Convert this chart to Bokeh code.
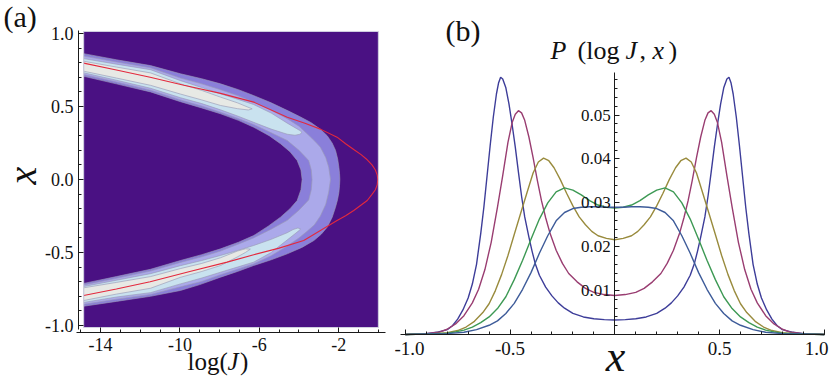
import math
from bokeh.plotting import figure
from bokeh.models import Range1d, FixedTicker, Label, NumeralTickFormatter
from bokeh.layouts import row
from bokeh.embed import file_html
from bokeh.resources import INLINE

SERIF = "Liberation Serif"

# ---------------- panel (a): contour bands in the (log J, x) plane ----------------
# plotted region of the density map
LOGJ_LIM = [-14.85, 0.0]
X_LIM = [-1.014, 1.014]

# level 1 band (outermost): outer edge and inner edge, listed from top-left round the nose to bottom-left
O1_L = [-14.85, -13.2, -11.48, -9.97, -8.9, -7.95, -7.05, -6.29, -5.4, -4.55, -3.95, -3.4, -2.93, -2.58, -2.33, -2.16, -2.05, -1.99, -1.955, -1.94,
        -1.955, -1.99, -2.06, -2.16, -2.33, -2.58, -2.88, -3.25, -3.85, -4.59, -5.4, -6.28, -7.1, -7.95, -9.0, -9.97, -11.48, -13.2, -14.85]
O1_X = [0.862, 0.82, 0.78, 0.724, 0.69, 0.655, 0.615, 0.575, 0.525, 0.47, 0.43, 0.39, 0.345, 0.3, 0.25, 0.2, 0.14, 0.084, 0.04, 0.0,
        -0.04, -0.09, -0.14, -0.19, -0.26, -0.327, -0.375, -0.418, -0.465, -0.509, -0.55, -0.589, -0.63, -0.669, -0.72, -0.76, -0.8, -0.835, -0.868]
I1_L = [-14.85, -13.2, -11.48, -9.97, -8.9, -7.95, -7.05, -6.28, -5.5, -4.93, -4.45, -4.09, -3.9, -3.84,
        -3.9, -4.09, -4.45, -4.93, -5.55, -6.28, -7.05, -7.95, -8.9, -9.97, -11.48, -13.2, -14.85]
I1_X = [0.707, 0.655, 0.6, 0.533, 0.49, 0.45, 0.405, 0.358, 0.3, 0.245, 0.19, 0.13, 0.065, 0.0,
        -0.07, -0.144, -0.2, -0.258, -0.32, -0.384, -0.43, -0.475, -0.515, -0.555, -0.615, -0.665, -0.712]

# level 2 band
O2_L = [-14.85, -13.2, -11.48, -9.97, -8.9, -7.95, -7.1, -6.29, -5.4, -4.59, -4.0, -3.59, -3.22, -2.92, -2.65, -2.5, -2.41,
        -2.5, -2.65, -2.92, -3.22, -3.59, -4.0, -4.59, -5.4, -6.29, -7.1, -7.95, -8.9, -9.97, -11.48, -13.2, -14.85]
O2_X = [0.845, 0.805, 0.765, 0.695, 0.655, 0.615, 0.575, 0.53, 0.475, 0.416, 0.365, 0.313, 0.265, 0.221, 0.15, 0.084, 0.0,
        -0.085, -0.17, -0.25, -0.31, -0.355, -0.4, -0.455, -0.522, -0.578, -0.615, -0.652, -0.698, -0.735, -0.787, -0.82, -0.855]
I2_L = [-14.85, -13.2, -11.48, -9.97, -8.9, -7.95, -7.1, -6.29, -5.4, -4.59, -4.0, -3.51, -3.38, -3.34,
        -3.38, -3.51, -4.0, -4.59, -5.4, -6.29, -7.1, -7.95, -8.9, -9.97, -11.48, -13.2, -14.85]
I2_X = [0.719, 0.668, 0.612, 0.545, 0.503, 0.461, 0.42, 0.377, 0.32, 0.267, 0.2, 0.13, 0.065, 0.0,
        -0.07, -0.14, -0.21, -0.28, -0.34, -0.4, -0.445, -0.49, -0.53, -0.568, -0.627, -0.677, -0.722]

# level 3 islands (upper and lower branch), outline from left edge to tip and back
L3U_L = [-14.85, -13.2, -11.48, -9.97, -8.9, -7.95, -7.1, -6.29, -5.4, -4.59, -4.2, -3.95, -3.85,
         -3.95, -4.2, -4.59, -5.4, -6.29, -7.1, -7.95, -8.9, -9.97, -11.48, -13.2, -14.85]
L3U_X = [0.828, 0.79, 0.752, 0.677, 0.63, 0.587, 0.55, 0.514, 0.455, 0.386, 0.355, 0.335, 0.323,
         0.31, 0.303, 0.31, 0.345, 0.392, 0.435, 0.477, 0.52, 0.56, 0.625, 0.68, 0.731]
L3D_L = [-14.85, -13.2, -11.48, -9.97, -8.9, -7.95, -7.1, -6.28, -5.4, -4.6, -4.2, -4.0, -3.92,
         -4.05, -4.3, -4.6, -5.4, -6.28, -7.1, -7.95, -8.9, -9.97, -11.48, -13.2, -14.85]
L3D_X = [-0.842, -0.805, -0.775, -0.715, -0.675, -0.635, -0.6, -0.566, -0.5, -0.415, -0.372, -0.35, -0.34,
         -0.332, -0.343, -0.365, -0.41, -0.452, -0.487, -0.52, -0.555, -0.59, -0.645, -0.69, -0.733]

# level 4 islands (core)
L4U_L = [-14.85, -13.2, -11.48, -9.97, -8.9, -7.95, -7.1, -6.6, -6.36, -6.55, -7.1, -7.95, -8.9, -9.97, -11.48, -13.2, -14.85]
L4U_X = [0.81, 0.77, 0.73, 0.655, 0.61, 0.564, 0.525, 0.497, 0.484, 0.476, 0.485, 0.507, 0.545, 0.585, 0.645, 0.695, 0.742]
L4D_L = [-14.85, -13.2, -11.48, -9.97, -8.9, -7.95, -7.1, -6.7, -6.45, -6.7, -7.1, -7.95, -8.9, -9.97, -11.48, -13.2, -14.85]
L4D_X = [-0.829, -0.785, -0.745, -0.67, -0.63, -0.589, -0.53, -0.5, -0.477, -0.475, -0.49, -0.536, -0.575, -0.61, -0.665, -0.705, -0.742]

# red curve
RED_L = [-14.85, -13.2, -11.5, -9.8, -7.95, -6.28, -4.59, -3.7, -2.92, -2.08, -1.65, -1.24, -0.87, -0.56, -0.32, -0.15, -0.056, -0.03,
         -0.056, -0.15, -0.34, -0.56, -0.9, -1.24, -1.65, -2.08, -2.92, -3.76, -5.0, -6.28, -7.62, -9.5, -11.5, -13.2, -14.85]
RED_X = [0.797, 0.75, 0.70, 0.645, 0.59, 0.53, 0.427, 0.385, 0.345, 0.29, 0.245, 0.205, 0.17, 0.135, 0.10, 0.065, 0.03, 0.0,
         -0.035, -0.07, -0.105, -0.144, -0.178, -0.212, -0.248, -0.281, -0.349, -0.418, -0.47, -0.515, -0.566, -0.63, -0.70, -0.75, -0.795]

A_X_TICKS = [-14, -10, -6, -2]
A_X_MINOR = [-15, -14, -13, -12, -11, -10, -9, -8, -7, -6, -5, -4, -3, -2, -1, 0]
A_Y_TICKS = [-1, -0.5, 0, 0.5, 1]
A_Y_MINOR = [-1.0, -0.9, -0.8, -0.7, -0.6, -0.5, -0.4, -0.3, -0.2, -0.1, 0.0, 0.1, 0.2, 0.3, 0.4, 0.5, 0.6, 0.7, 0.8, 0.9, 1.0]

# ---------------- panel (b): P(log J, x) curves ----------------
X1 = [-1.0, -0.95, -0.9, -0.85, -0.8, -0.775, -0.75, -0.725, -0.7, -0.68, -0.66, -0.64, -0.625, -0.61, -0.595, -0.58, -0.565, -0.555, -0.545, -0.535,
      -0.52, -0.505, -0.49, -0.475, -0.46, -0.445, -0.43, -0.41, -0.395, -0.38, -0.36, -0.33, -0.3, -0.27, -0.24, -0.2, -0.15, -0.1, -0.05, 0.0,
      0.05, 0.1, 0.15, 0.2, 0.24, 0.27, 0.3, 0.33, 0.36, 0.38, 0.395, 0.41, 0.43, 0.445, 0.46, 0.475, 0.49, 0.505, 0.52,
      0.535, 0.545, 0.555, 0.565, 0.58, 0.595, 0.61, 0.625, 0.64, 0.66, 0.68, 0.7, 0.725, 0.75, 0.775, 0.8, 0.85, 0.9, 0.95, 1.0]
Y1 = [0.0, 0.0001, 0.0002, 0.0005, 0.0011, 0.002, 0.0035, 0.0056, 0.0083, 0.0115, 0.016, 0.023, 0.029, 0.036, 0.043, 0.0495, 0.0548, 0.0573, 0.0586, 0.0582,
      0.0562, 0.0525, 0.0478, 0.0427, 0.037, 0.0315, 0.0268, 0.0222, 0.019, 0.0162, 0.0135, 0.0108, 0.0088, 0.0072, 0.006, 0.0048, 0.004, 0.0036, 0.0034, 0.0033,
      0.0034, 0.0036, 0.004, 0.0048, 0.006, 0.0072, 0.0088, 0.0108, 0.0135, 0.0162, 0.019, 0.0222, 0.0268, 0.0315, 0.037, 0.0427, 0.0478, 0.0525, 0.0562,
      0.0582, 0.0586, 0.0573, 0.0548, 0.0495, 0.043, 0.036, 0.029, 0.023, 0.016, 0.0115, 0.0083, 0.0056, 0.0035, 0.002, 0.0011, 0.0005, 0.0002, 0.0001, 0.0]

X2 = [-1.0, -0.95, -0.9, -0.84, -0.8, -0.76, -0.72, -0.68, -0.65, -0.62, -0.59, -0.56, -0.535, -0.51, -0.49, -0.475, -0.46, -0.445, -0.43, -0.41,
      -0.39, -0.37, -0.35, -0.33, -0.31, -0.28, -0.25, -0.22, -0.18, -0.14, -0.1, -0.05, 0.0,
      0.05, 0.1, 0.14, 0.18, 0.22, 0.25, 0.28, 0.31, 0.33, 0.35, 0.37, 0.39, 0.41, 0.43, 0.445, 0.46,
      0.475, 0.49, 0.51, 0.535, 0.56, 0.59, 0.62, 0.65, 0.68, 0.72, 0.76, 0.8, 0.84, 0.9, 0.95, 1.0]
Y2 = [0.0, 0.0001, 0.0002, 0.0005, 0.0012, 0.0024, 0.0043, 0.0072, 0.0103, 0.0148, 0.021, 0.029, 0.0362, 0.0438, 0.0483, 0.0502, 0.051, 0.0505, 0.0488, 0.045,
      0.0403, 0.0352, 0.0305, 0.0266, 0.0232, 0.0192, 0.0162, 0.0139, 0.012, 0.0105, 0.0096, 0.0091, 0.0089,
      0.0091, 0.0096, 0.0105, 0.012, 0.0139, 0.0162, 0.0192, 0.0232, 0.0266, 0.0305, 0.0352, 0.0403, 0.045, 0.0488, 0.0505, 0.051,
      0.0502, 0.0483, 0.0438, 0.0362, 0.029, 0.021, 0.0148, 0.0103, 0.0072, 0.0043, 0.0024, 0.0012, 0.0005, 0.0002, 0.0001, 0.0]

X3 = [-1.0, -0.9, -0.85, -0.8, -0.75, -0.71, -0.67, -0.63, -0.6, -0.57, -0.54, -0.51, -0.48, -0.45, -0.42, -0.39, -0.365, -0.34, -0.315, -0.29,
      -0.26, -0.23, -0.2, -0.17, -0.14, -0.11, -0.08, -0.04, 0.0,
      0.04, 0.08, 0.11, 0.14, 0.17, 0.2, 0.23, 0.26, 0.29, 0.315, 0.34, 0.365, 0.39, 0.42, 0.45, 0.48, 0.51, 0.54, 0.57, 0.6,
      0.63, 0.67, 0.71, 0.75, 0.8, 0.85, 0.9, 1.0]
Y3 = [0.0, 0.0001, 0.0002, 0.0004, 0.0009, 0.0017, 0.003, 0.005, 0.007, 0.01, 0.0137, 0.018, 0.0228, 0.0275, 0.0322, 0.0368, 0.0393, 0.0402, 0.0396, 0.038,
      0.0353, 0.0322, 0.0293, 0.0268, 0.025, 0.0235, 0.0225, 0.0219, 0.0216,
      0.0219, 0.0225, 0.0235, 0.025, 0.0268, 0.0293, 0.0322, 0.0353, 0.038, 0.0396, 0.0402, 0.0393, 0.0368, 0.0322, 0.0275, 0.0228, 0.018, 0.0137, 0.01, 0.007,
      0.005, 0.003, 0.0017, 0.0009, 0.0004, 0.0002, 0.0001, 0.0]

X4 = [-1.0, -0.9, -0.8, -0.76, -0.72, -0.68, -0.64, -0.6, -0.56, -0.52, -0.48, -0.44, -0.4, -0.36, -0.32, -0.28, -0.24, -0.2, -0.16, -0.12,
      -0.08, -0.04, 0.0,
      0.04, 0.08, 0.12, 0.16, 0.2, 0.24, 0.28, 0.32, 0.36, 0.4, 0.44, 0.48, 0.52, 0.56, 0.6, 0.64, 0.68, 0.72, 0.76, 0.8, 0.9, 1.0]
Y4 = [0.0, 0.0001, 0.0003, 0.0006, 0.001, 0.0017, 0.0027, 0.004, 0.0059, 0.0086, 0.0125, 0.0169, 0.0217, 0.0263, 0.03, 0.0325, 0.0334, 0.0329, 0.0318, 0.0305,
      0.0295, 0.029, 0.0288,
      0.029, 0.0295, 0.0305, 0.0318, 0.0329, 0.0334, 0.0325, 0.03, 0.0263, 0.0217, 0.0169, 0.0125, 0.0086, 0.0059, 0.004, 0.0027, 0.0017, 0.001, 0.0006, 0.0003, 0.0001, 0.0]

X5 = [-1.0, -0.9, -0.8, -0.72, -0.66, -0.6, -0.56, -0.52, -0.48, -0.44, -0.4, -0.36, -0.32, -0.28, -0.24, -0.2, -0.16, -0.12, -0.08, -0.04, 0.0,
      0.04, 0.08, 0.12, 0.16, 0.2, 0.24, 0.28, 0.32, 0.36, 0.4, 0.44, 0.48, 0.52, 0.56, 0.6, 0.66, 0.72, 0.8, 0.9, 1.0]
Y5 = [0.0, 0.0001, 0.0002, 0.0005, 0.0011, 0.0021, 0.0031, 0.0048, 0.0071, 0.0103, 0.0141, 0.0185, 0.0225, 0.0259, 0.0278, 0.0287, 0.029, 0.0291, 0.0291, 0.029, 0.029,
      0.029, 0.0291, 0.0291, 0.029, 0.0287, 0.0278, 0.0259, 0.0225, 0.0185, 0.0141, 0.0103, 0.0071, 0.0048, 0.0031, 0.0021, 0.0011, 0.0005, 0.0002, 0.0001, 0.0]

SERIES = [(X1, Y1, "#3d3d99"), (X2, Y2, "#993d71"), (X3, Y3, "#998b3d"), (X4, Y4, "#3d9954"), (X5, Y5, "#3d5b99")]

B_X_TICKS = [-1, -0.5, 0.5, 1]
B_X_MINOR = [-1.0, -0.9, -0.8, -0.7, -0.6, -0.5, -0.4, -0.3, -0.2, -0.1, 0.0, 0.1, 0.2, 0.3, 0.4, 0.5, 0.6, 0.7, 0.8, 0.9, 1.0]
B_Y_TICKS = [0.01, 0.02, 0.03, 0.04, 0.05]
B_Y_MINOR = [round(0.002 * i, 3) for i in range(1, 30)]

BG = "#4a1183"
BAND_COLORS = ["#8a7fda", "#aba9ea", "#c9e2ef", "#e7e9e5"]
EDGE = "#9b9bb5"
INK = "#111111"


def style_axis(ax, size):
    ax.axis_line_color = "#1a1a1a"
    ax.axis_line_width = 1
    ax.major_tick_line_color = "#1a1a1a"
    ax.minor_tick_line_color = "#1a1a1a"
    ax.major_tick_in = 5
    ax.major_tick_out = 0
    ax.minor_tick_in = 3
    ax.minor_tick_out = 0
    ax.major_label_text_font = SERIF
    ax.major_label_text_font_size = size
    ax.major_label_text_color = INK


def add_text(p, x, y, text, size, style="normal", align="left", baseline="alphabetic", angle=0.0):
    p.add_layout(Label(x=x, y=y, text=text, text_font=SERIF, text_font_size=f"{size}px",
                       text_font_style=style, text_align=align, text_baseline=baseline,
                       angle=angle, text_color=INK))


H = 384

# ---------------- figure (a): the frame fills the whole canvas, axes sit at fixed places ----------------
A_W = 394
A_SX = 15.47 / 307.0      # log J per pixel
A_SY = 2.0685 / 302.0     # x per pixel


def apx(px):  # picture pixel -> log J
    return -15.11 + (px - 78) * A_SX


def apy(py):  # picture pixel -> x
    return 1.0205 - (py - 30) * A_SY


pa = figure(width=A_W, height=H, output_backend="svg", toolbar_location=None,
            x_range=Range1d(apx(0), apx(A_W)), y_range=Range1d(apy(H), apy(0)),
            min_border_left=0, min_border_right=0, min_border_top=0, min_border_bottom=0)
pa.outline_line_color = None
pa.grid.visible = False
pa.background_fill_color = "white"
style_axis(pa.xaxis[0], "18px")
style_axis(pa.yaxis[0], "18px")
pa.xaxis.ticker = FixedTicker(ticks=A_X_TICKS, minor_ticks=A_X_MINOR)
pa.xaxis.formatter = NumeralTickFormatter(format="0")
pa.yaxis.ticker = FixedTicker(ticks=A_Y_TICKS, minor_ticks=A_Y_MINOR)
pa.yaxis.formatter = NumeralTickFormatter(format="0.0")
pa.xaxis.major_label_standoff = 5
pa.yaxis.major_label_standoff = 5
pa.xaxis.fixed_location = apy(332)
pa.yaxis.fixed_location = apx(78)
pa.xaxis.bounds = (apx(76), apx(385))
pa.yaxis.bounds = (apy(329), apy(30))

pa.quad(left=LOGJ_LIM[0], right=LOGJ_LIM[1], bottom=X_LIM[0], top=X_LIM[1], fill_color=BG, line_color=None)


def horseshoe(oL, oX, iL, iX):
    return oL + iL[::-1], oX + iX[::-1]


for (xs, ys), col in [(horseshoe(O1_L, O1_X, I1_L, I1_X), BAND_COLORS[0]),
                      (horseshoe(O2_L, O2_X, I2_L, I2_X), BAND_COLORS[1]),
                      ((L3U_L, L3U_X), BAND_COLORS[2]), ((L3D_L, L3D_X), BAND_COLORS[2]),
                      ((L4U_L, L4U_X), BAND_COLORS[3]), ((L4D_L, L4D_X), BAND_COLORS[3])]:
    pa.patch(xs, ys, fill_color=col, line_color=EDGE, line_width=0.8, line_alpha=0.8)

pa.line(RED_L, RED_X, line_color="#e3293d", line_width=1.1)
pa.quad(left=LOGJ_LIM[0], right=LOGJ_LIM[1], bottom=X_LIM[0], top=X_LIM[1], fill_color=None,
        line_color="#d2d2e2", line_width=1)

add_text(pa, apx(3), apy(15.5), "(a)", 30)
add_text(pa, apx(22), apy(175), "x", 40, style="italic", align="center", baseline="middle", angle=math.pi / 2)
add_text(pa, apx(187), apy(361), "log(", 25)
add_text(pa, apx(227), apy(361), "J", 25, style="italic")
add_text(pa, apx(239.5), apy(361), ")", 25)

# ---------------- figure (b) ----------------
B_W = 831 - A_W
B_SX = 1.0 / 209.5
B_SY = 0.0597 / 262.0


def bpx(px):
    return (px - 614.3) * B_SX


def bpy(py):
    return 0.0597 - (py - 72) * B_SY


pb = figure(width=B_W, height=H, output_backend="svg", toolbar_location=None,
            x_range=Range1d(bpx(A_W), bpx(831)), y_range=Range1d(bpy(H), bpy(0)),
            min_border_left=0, min_border_right=0, min_border_top=0, min_border_bottom=0)
pb.outline_line_color = None
pb.grid.visible = False
style_axis(pb.xaxis[0], "19px")
style_axis(pb.yaxis[0], "17px")
pb.yaxis.fixed_location = 0
pb.xaxis.fixed_location = 0
pb.xaxis.bounds = (bpx(400), 1.0)
pb.yaxis.bounds = (0.0, 0.0597)
pb.xaxis.ticker = FixedTicker(ticks=B_X_TICKS, minor_ticks=B_X_MINOR)
pb.xaxis.formatter = NumeralTickFormatter(format="0.0")
pb.xaxis.major_label_overrides = {-1: "", 1: ""}
pb.xaxis.major_label_standoff = 7
pb.yaxis.ticker = FixedTicker(ticks=B_Y_TICKS, minor_ticks=B_Y_MINOR)
pb.yaxis.formatter = NumeralTickFormatter(format="0.00")
pb.yaxis.major_label_standoff = 4

for xs, ys, col in SERIES:
    pb.line(xs, ys, line_color=col, line_width=1.4)

add_text(pb, bpx(445), bpy(29.5), "(b)", 30)
add_text(pb, bpx(550), bpy(50), "P", 26, style="italic")
add_text(pb, bpx(577), bpy(50), "(log", 26)
add_text(pb, bpx(625), bpy(50), "J", 26, style="italic")
add_text(pb, bpx(639), bpy(50), ",", 26)
add_text(pb, bpx(652), bpy(50), "x", 26, style="italic")
add_text(pb, bpx(668), bpy(50), ")", 26)
add_text(pb, bpx(394), bpy(341), "-1.0", 19, baseline="top")
add_text(pb, bpx(828), bpy(341), "1.0", 19, align="right", baseline="top")
add_text(pb, bpx(615), bpy(356), "x", 44, style="italic", align="center")

layout = row(pa, pb)
open("out.html", "w").write(file_html(layout, INLINE))
